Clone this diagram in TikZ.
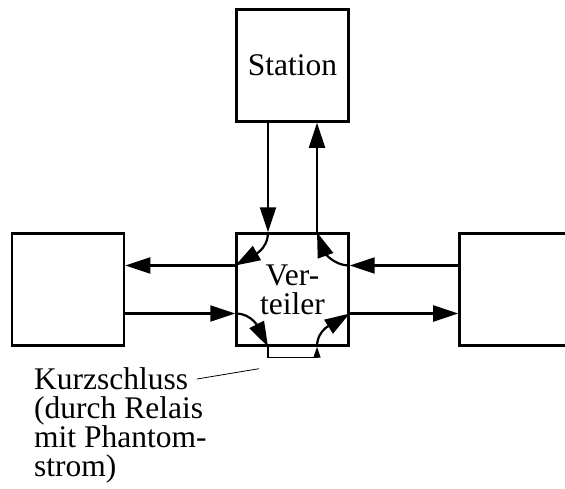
\documentclass[tikz,border=0pt]{standalone}
\usepackage{fontspec}
\setmainfont{Liberation Serif}
\usepackage{tikz}
\usetikzlibrary{positioning, arrows.meta}
\tikzset{
    box/.style = {
        rectangle, draw,
        line width=2.4pt,
        minimum size=112pt,
        inner sep=0pt,
        align=center
    },
    note/.style = {
        inner sep=0pt,
        align=left
    },
    arrow/.style = {
        -{Triangle[length=25pt,width=16pt]}, line width=2.2pt
    },
    shortarrow/.style = {
        -{Triangle[length=11pt,width=7pt]}, line width=1.3pt
    }
}

\begin{document}
\begin{tikzpicture}[x=1pt, y=1pt, font=\fontsize{31.5}{29}\selectfont]

\useasboundingbox (0,0) rectangle (565,488);

\node (verteiler) [box] at (292.5,198.5) {Ver-\\teiler};
\node (station) [box, above=109.5pt of verteiler] {Station};
\node (links) [box, left=110pt of verteiler] {};
\node (rechts) [box, right=108.5pt of verteiler] {};
\node (kurz) [note, anchor=north west] at (34,120.5) {Kurzschluss\\(durch Relais\\mit Phantom-\\strom)};

% Anschlusspunkte
\coordinate (sd) at ([xshift=-24.5pt]station.south);
\coordinate (su) at ([xshift=24.5pt]station.south);
\coordinate (vn1) at ([xshift=-24.5pt]verteiler.north);
\coordinate (vn2) at ([xshift=24.5pt]verteiler.north);
\coordinate (vs1) at ([xshift=-24.5pt]verteiler.south);
\coordinate (vs2) at ([xshift=24.5pt]verteiler.south);
\coordinate (vw1) at ([yshift=24pt]verteiler.west);
\coordinate (vw2) at ([yshift=-24pt]verteiler.west);
\coordinate (ve1) at ([yshift=24pt]verteiler.east);
\coordinate (ve2) at ([yshift=-24pt]verteiler.east);
\coordinate (lo1) at ([yshift=24pt]links.east);
\coordinate (lo2) at ([yshift=-24pt]links.east);
\coordinate (ro1) at ([yshift=24pt]rechts.west);
\coordinate (ro2) at ([yshift=-24pt]rechts.west);
\coordinate (kzstart) at (197,109);
\coordinate (kzziel) at ([xshift=-9pt,yshift=-22pt]vs1);

\draw [arrow] (sd) -- (vn1);
\draw [arrow] (vn2) -- (su);
\draw [arrow] (vn1) to[out=-90, in=30] (vw1);
\draw [arrow] (vw1) -- (lo1);
\draw [arrow] (lo2) -- (vw2);
\draw [arrow] (vw2) to[out=0, in=117] (vs1);
\draw [shortarrow] (vs1) -- ++(0,-11) -| (vs2);
\draw [arrow] (vs2) to[out=90, in=212] (ve2);
\draw [arrow] (ve2) -- (ro2);
\draw [arrow] (ro1) -- (ve1);
\draw [arrow] (ve1) to[out=180, in=-70] (vn2);
\draw [line width=0.8pt] (kzstart) -- (kzziel);

\end{tikzpicture}
\end{document}
